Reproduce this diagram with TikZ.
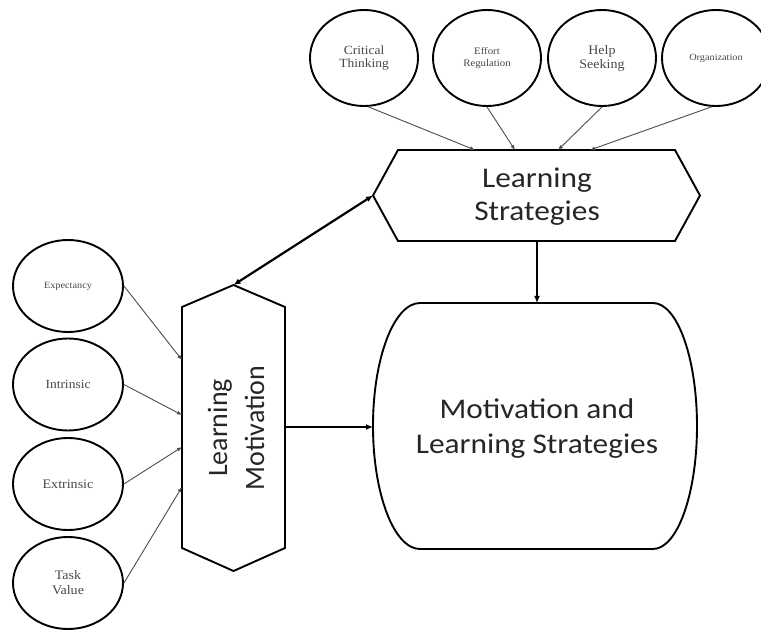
\documentclass[tikz,border=0pt]{standalone}
\usepackage{fontspec}
\usetikzlibrary{shapes.geometric,arrows.meta}
\newfontfamily\serifF{Liberation Serif}[FakeStretch=1.08]
\newfontfamily\sansF{Carlito}[FakeStretch=1.1]
\newfontfamily\sansN{Carlito}
\tikzset{
  oval/.style={ellipse,draw=black,line width=1.9pt,inner sep=0pt,text=black!72,align=center},
  topoval/.style={oval,minimum width=108pt,minimum height=96pt},
  leftoval/.style={oval,minimum width=110pt,minimum height=92pt},
  thin arrow/.style={draw=black!70,line width=0.9pt,-{Latex[length=5pt,width=4pt]}},
  thick arrow/.style={draw=black,line width=2.2pt,-{Latex[length=7pt,width=6pt]}},
  shapeline/.style={draw=black,line width=1.9pt,line join=miter},
  bigtext/.style={text=black!85,align=center,inner sep=0pt}
}
\begin{document}
\begin{tikzpicture}[x=1pt,y=-1pt]
\useasboundingbox (0,0) rectangle (761,631);
% Learning Strategies hexagon
\draw[shapeline] (373,195.5) -- (398,150) -- (675,150) -- (700,195.5) -- (675,241) -- (398,241) -- cycle;
\coordinate (LSl) at (373,195.5);
\coordinate (LSb) at (537,241);
\coordinate (LSt1) at (475,150);
\coordinate (LSt2) at (515,150);
\coordinate (LSt3) at (558,150);
\coordinate (LSt4) at (590,150);
\node[bigtext,font=\sansF\fontsize{28.5}{33}\selectfont] (LStext) at (537,197) {Learning\\Strategies};
% Learning Motivation hexagon
\draw[shapeline] (233.5,285) -- (285,307) -- (285,548) -- (233.5,571) -- (182,548) -- (182,307) -- cycle;
\coordinate (LMt) at (233.5,285);
\coordinate (LMr) at (285,427);
\coordinate (LMl1) at (182,360);
\coordinate (LMl2) at (182,415);
\coordinate (LMl3) at (182,447);
\coordinate (LMl4) at (182,487);
\node[bigtext,rotate=90,font=\sansN\fontsize{28}{37}\selectfont] (LMtext) at (236,428) {Learning\\Motivation};
% Motivation and Learning Strategies shape
\draw[shapeline] (420,303) -- (653,303)
  .. controls (677.3,303) and (697,358.1) .. (697,426)
  .. controls (697,493.9) and (677.3,549) .. (653,549)
  -- (420,549)
  .. controls (394.1,549) and (373,493.9) .. (373,426)
  .. controls (373,358.1) and (394.1,303) .. (420,303) -- cycle;
\coordinate (MLSt) at (537,303);
\coordinate (MLSl) at (373,427);
\node[bigtext,font=\sansF\fontsize{28.5}{35}\selectfont] (MLStext) at (537,429) {Motivation and\\Learning Strategies};
% top ovals
\node[topoval,font=\serifF\fontsize{12.5}{13}\selectfont] (CT) at (364,58) {Critical\\Thinking};
\node[topoval,font=\serifF\fontsize{10}{12}\selectfont] (ER) at (487,58) {Effort\\Regulation};
\node[topoval,font=\serifF\fontsize{13}{14}\selectfont] (HS) at (602,58) {Help\\Seeking};
\node[topoval,font=\serifF\fontsize{9.5}{11}\selectfont] (OR) at (716,58) {Organization};
% left ovals
\node[leftoval,font=\serifF\fontsize{9.5}{11}\selectfont] (EX) at (68,286) {Expectancy};
\node[leftoval,font=\serifF\fontsize{12.5}{14}\selectfont] (IN) at (68,384.5) {Intrinsic};
\node[leftoval,font=\serifF\fontsize{13}{14}\selectfont] (EXT) at (68,484) {Extrinsic};
\node[leftoval,font=\serifF\fontsize{13}{15}\selectfont] (TV) at (68,583) {Task\\Value};
% connectors
\draw[thin arrow] (CT.-85) -- (LSt1);
\draw[thin arrow] (ER.south) -- (LSt2);
\draw[thin arrow] (HS.south) -- (LSt3);
\draw[thin arrow] (OR.-95) -- (LSt4);
\draw[thin arrow] (EX.east) -- (LMl1);
\draw[thin arrow] (IN.east) -- (LMl2);
\draw[thin arrow] (EXT.east) -- (LMl3);
\draw[thin arrow] (TV.east) -- (LMl4);
\draw[thick arrow,{Latex[length=7pt,width=6pt]}-{Latex[length=7pt,width=6pt]}] (LMt) -- (LSl);
\draw[thick arrow] (LSb) -- (MLSt);
\draw[thick arrow] (LMr) -- (MLSl);
\end{tikzpicture}
\end{document}
